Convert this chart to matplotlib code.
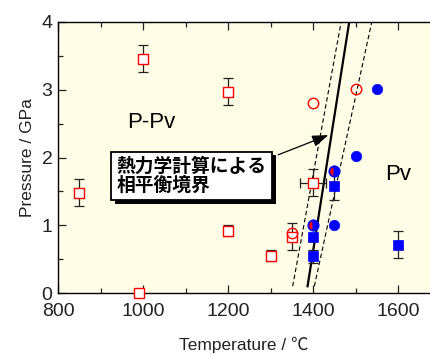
import matplotlib
matplotlib.use('Agg')
import matplotlib.pyplot as plt
import matplotlib.patheffects as pe
from matplotlib.ticker import MultipleLocator

# P-Pv side: open red squares (with error bars)
ppv_t = [850, 1000, 990, 1200, 1200, 1300, 1350, 1400]
ppv_p = [1.48, 3.46, 0.0, 2.97, 0.92, 0.55, 0.83, 1.63]
ppv_perr = [0.2, 0.2, 0.0, 0.2, 0.08, 0.08, 0.2, 0.2]
ppv_terr = [0, 0, 0, 0, 0, 0, 0, 30]

# P-Pv side: open red circles
ppv_circ_t = [1400, 1500, 1350]
ppv_circ_p = [2.81, 3.01, 0.89]

# Pv side: filled blue circles
pv_circ_t = [1550, 1500, 1450]
pv_circ_p = [3.01, 2.02, 1.0]

# coexisting (half red / half blue)
mix_t = [1450, 1400]
mix_p = [1.8, 1.0]

# Pv side: filled blue squares (with error bars)
pv_sq_t = [1450, 1400, 1400, 1600]
pv_sq_p = [1.58, 0.82, 0.54, 0.71]
pv_sq_perr = [0.2, 0.0, 0.1, 0.2]

# calculated phase boundary (temperature at P = 0.1 and 4.0 GPa)
bound_p = [0.1, 4.0]
bound_t = [1387, 1485]
bound_lo_t = [1352, 1466]
bound_hi_t = [1403, 1538]

plt.rcParams['font.family'] = ['Liberation Sans', 'Noto Sans CJK JP', 'DejaVu Sans']

fig = plt.figure(figsize=(4.3, 3.54), dpi=100)
ax = fig.add_axes([58 / 430, 61 / 354, 372 / 430, 271 / 354])
ax.set_facecolor('#fffde6')

# boundary lines
ax.plot(bound_t, bound_p, color='k', lw=1.6, zorder=2)
ax.plot(bound_lo_t, bound_p, color='k', lw=0.8, ls=(0, (4, 2.5)), zorder=2)
ax.plot(bound_hi_t, bound_p, color='k', lw=0.8, ls=(0, (4, 2.5)), zorder=2)

eb = dict(fmt='none', ecolor='#222222', elinewidth=0.9, capsize=3.6, capthick=0.9, zorder=3)
for t, p, dp, dt in zip(ppv_t, ppv_p, ppv_perr, ppv_terr):
    if dp or dt:
        ax.errorbar(t, p, yerr=dp if dp else None, xerr=dt if dt else None, **eb)
for t, p, dp in zip(pv_sq_t, pv_sq_p, pv_sq_perr):
    if dp:
        ax.errorbar(t, p, yerr=dp, **eb)

ms = 7.5
ax.plot(ppv_t, ppv_p, 's', ms=ms, mfc='white', mec='red', mew=1.0, zorder=4, clip_on=False)
ax.plot(pv_sq_t, pv_sq_p, 's', ms=ms, mfc='blue', mec='blue', mew=0.5, zorder=4)
ax.plot(ppv_circ_t, ppv_circ_p, 'o', ms=ms, mfc='none', mec='red', mew=1.0, zorder=5)
ax.plot(pv_circ_t, pv_circ_p, 'o', ms=ms, mfc='blue', mec='blue', mew=0.5, zorder=5)
ax.plot(mix_t, mix_p, 'o', ms=ms, fillstyle='left', mfc='red', mfcalt='blue',
        mec='blue', mew=1.2, zorder=6)

ax.set_xlim(800, 1675)
ax.set_ylim(0, 4)
ax.xaxis.set_major_locator(MultipleLocator(200))
ax.xaxis.set_minor_locator(MultipleLocator(100))
ax.yaxis.set_major_locator(MultipleLocator(1))
ax.yaxis.set_minor_locator(MultipleLocator(0.5))
ax.tick_params(which='both', direction='in', top=True, right=False, width=0.9,
               colors='#222222')
ax.tick_params(which='major', length=6, labelsize=14)
ax.tick_params(which='minor', length=3.6)
ax.tick_params(axis='x', which='major', pad=7)
ax.tick_params(axis='y', which='major', pad=4)
ax.spines['right'].set_visible(False)
for s in ['left', 'top', 'bottom']:
    ax.spines[s].set_linewidth(1.0)

ax.set_ylabel('Pressure / GPa', fontsize=12.5, color='#222222', labelpad=5)
fig.text(244 / 430, 4 / 354, 'Temperature / \u2103', fontsize=12.5, color='#222222',
         ha='center', va='baseline')

ax.text(962, 2.52, 'P-Pv', fontsize=16, ha='left', va='center')
ax.text(1569, 1.75, 'Pv', fontsize=16, ha='left', va='center')

box = ax.text(938, 1.73, '熱力学計算による\n相平衡境界', fontsize=13.5, fontweight='bold',
              family=['Noto Sans CJK JP'], ha='left', va='center', linespacing=0.95,
              bbox=dict(boxstyle='square,pad=0.3', fc='white', ec='k', lw=1.3), zorder=7)
box.get_bbox_patch().set_path_effects([
    pe.SimplePatchShadow(offset=(2.5, -2.5), shadow_rgbFace='k', alpha=1), pe.Normal()])

ax.annotate('', xy=(1436, 2.33), xytext=(1318, 2.04),
            arrowprops=dict(arrowstyle='-|>,head_length=0.7,head_width=0.25', color='k',
                            lw=0.9, mutation_scale=14, shrinkA=0, shrinkB=0), zorder=7)

fig.savefig('out.png', dpi=100)
